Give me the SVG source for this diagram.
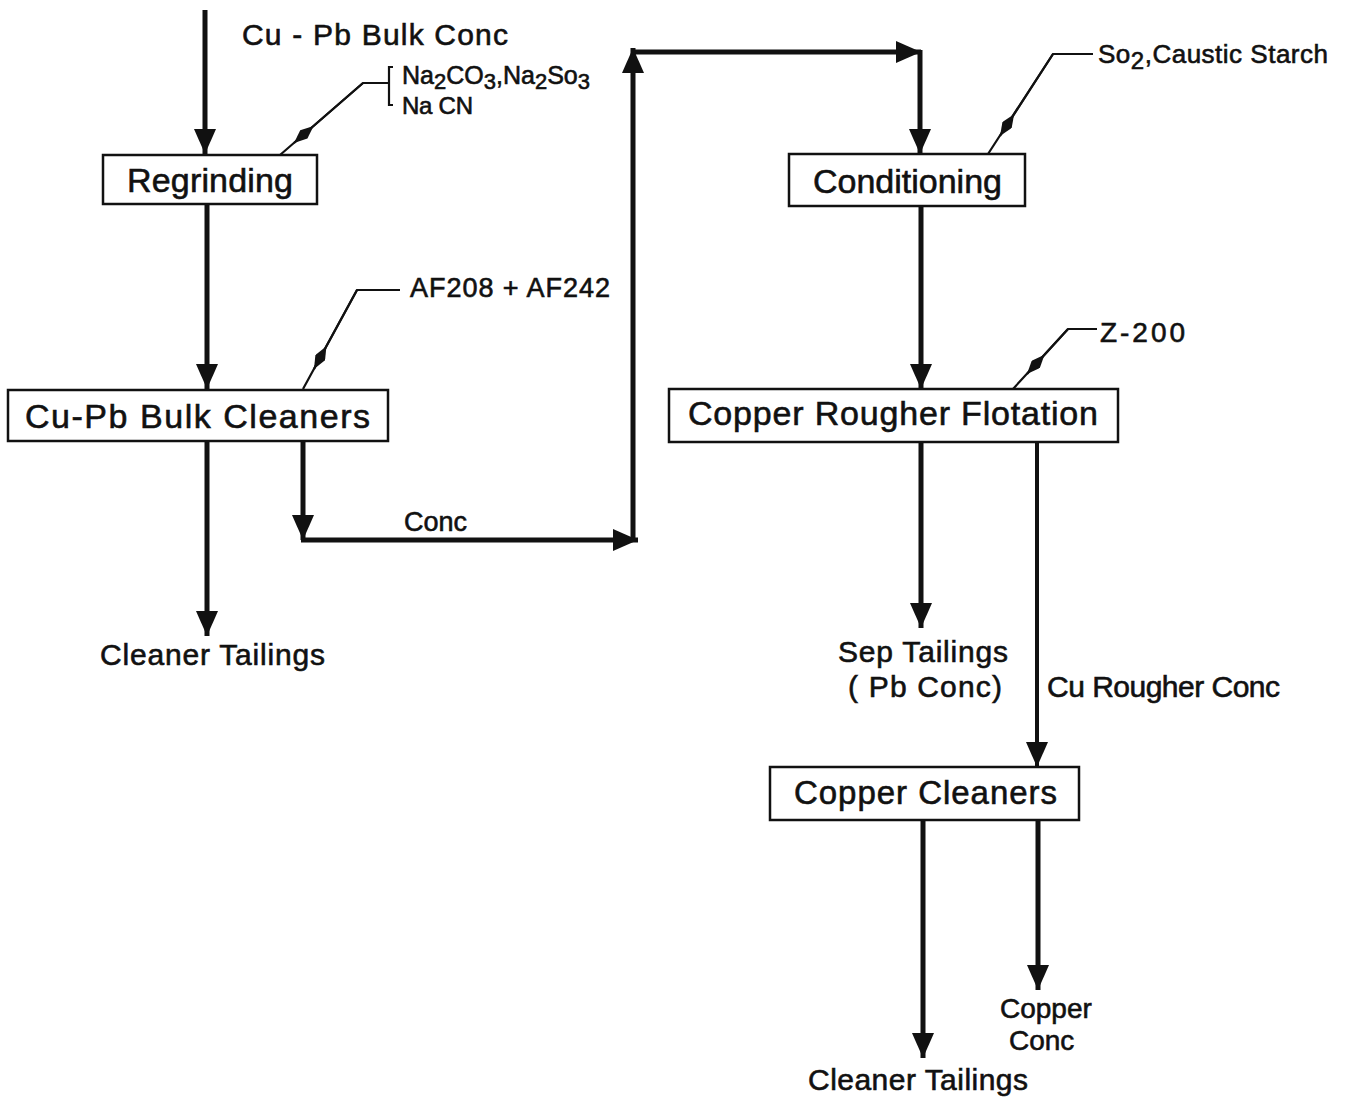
<svg xmlns="http://www.w3.org/2000/svg" width="1349" height="1099" viewBox="0 0 1349 1099">
<defs>
<style>
text{font-family:"Liberation Sans","DejaVu Sans",Arial,sans-serif;fill:#111;stroke:#111;stroke-width:0.6;}
.box{fill:#fff;stroke:#111;stroke-width:2.5;}
.bl{font-size:34px;}
.lb{font-size:30px;}
.flow{fill:none;stroke:#111;stroke-width:5;}
.thin{fill:none;stroke:#111;stroke-width:4;}
.lead{fill:none;stroke:#111;stroke-width:2.2;}
</style>
<marker id="ah" viewBox="0 0 10 10" preserveAspectRatio="none" refX="10" refY="5" markerUnits="userSpaceOnUse" markerWidth="25" markerHeight="22" orient="auto">
<path d="M0,0 L10,5 L0,10 z" fill="#111"/>
</marker>
<marker id="la" viewBox="0 0 10 10" preserveAspectRatio="none" refX="10" refY="5" markerUnits="userSpaceOnUse" markerWidth="26" markerHeight="11" orient="auto">
<path d="M0,5 L5,0 L10,5 L5,10 z" fill="#111"/>
</marker>
</defs>
<rect width="1349" height="1099" fill="#fff"/>

<g id="connectors">
<path class="flow" d="M205,10 V154" marker-end="url(#ah)"/>
<path class="flow" d="M207,204 V389" marker-end="url(#ah)"/>
<path class="flow" d="M207,441 V636" marker-end="url(#ah)"/>
<path class="flow" d="M303,441 V540" marker-end="url(#ah)"/>
<path class="flow" d="M301,540 H638" marker-end="url(#ah)"/>
<path class="flow" d="M633,542 V48" marker-end="url(#ah)"/>
<path class="flow" d="M631,52 H921" marker-end="url(#ah)"/>
<path class="flow" d="M920,50 V154" marker-end="url(#ah)"/>
<path class="flow" d="M921,206 V389" marker-end="url(#ah)"/>
<path class="flow" d="M921,442 V628" marker-end="url(#ah)"/>
<path class="thin" d="M1037,442 V767" marker-end="url(#ah)"/>
<path class="flow" d="M923,820 V1058" marker-end="url(#ah)"/>
<path class="flow" d="M1038,820 V990" marker-end="url(#ah)"/>
<!-- reagent leaders -->
<path class="lead" d="M393,67 H389 V105 H393"/>
<path class="lead" d="M389,83 H363 L280,155"/>
<path class="lead" d="M363,83 L294,143" marker-end="url(#la)"/>
<path class="lead" d="M400,290 H357 L303,389"/>
<path class="lead" d="M357,290 L314,369" marker-end="url(#la)"/>
<path class="lead" d="M1093,54 H1053 L988,154"/>
<path class="lead" d="M1053,54 L1000,136" marker-end="url(#la)"/>
<path class="lead" d="M1097,329 H1068 L1013,389"/>
<path class="lead" d="M1068,329 L1027,374" marker-end="url(#la)"/>
</g>

<g id="regrinding">
<rect class="box" x="103" y="155" width="214" height="49"/>
<text class="bl" x="127" y="192" textLength="166">Regrinding</text>
</g>
<g id="bulk-cleaners">
<rect class="box" x="8" y="390" width="380" height="51"/>
<text class="bl" x="25" y="428" textLength="345">Cu-Pb  Bulk  Cleaners</text>
</g>
<g id="conditioning">
<rect class="box" x="789" y="154" width="236" height="52"/>
<text class="bl" x="813" y="193" textLength="189">Conditioning</text>
</g>
<g id="rougher">
<rect class="box" x="669" y="389" width="449" height="53"/>
<text class="bl" x="688" y="425" textLength="410">Copper  Rougher  Flotation</text>
</g>
<g id="copper-cleaners">
<rect class="box" x="770" y="767" width="309" height="53"/>
<text font-size="33" x="794" y="804" textLength="263">Copper  Cleaners</text>
</g>

<g id="labels">
<text class="lb" x="242" y="45" textLength="266">Cu - Pb  Bulk  Conc</text>
<text font-size="25" x="402" y="84">Na<tspan font-size="22" dy="5">2</tspan><tspan dy="-5">CO</tspan><tspan font-size="22" dy="5">3</tspan><tspan dy="-5">,Na</tspan><tspan font-size="22" dy="5">2</tspan><tspan dy="-5">So</tspan><tspan font-size="22" dy="5">3</tspan></text>
<text font-size="24" x="402" y="114" textLength="71">Na CN</text>
<text font-size="27" x="410" y="297" textLength="200">AF208 + AF242</text>
<text font-size="26" x="1098" y="63" letter-spacing="0.5">So<tspan font-size="24" dy="6">2</tspan><tspan dy="-6">,Caustic Starch</tspan></text>
<text font-size="28" x="1100" y="342" textLength="85">Z-200</text>
<text font-size="27" x="404" y="531">Conc</text>
<text class="lb" x="100" y="665" textLength="225">Cleaner  Tailings</text>
<text class="lb" x="838" y="662" textLength="170">Sep  Tailings</text>
<text class="lb" x="848" y="697" textLength="154">( Pb  Conc)</text>
<text class="lb" x="1047" y="697" textLength="233">Cu  Rougher Conc</text>
<text font-size="28" x="1000" y="1018">Copper</text>
<text font-size="28" x="1009" y="1050">Conc</text>
<text class="lb" x="808" y="1090" textLength="220">Cleaner  Tailings</text>
</g>
</svg>
